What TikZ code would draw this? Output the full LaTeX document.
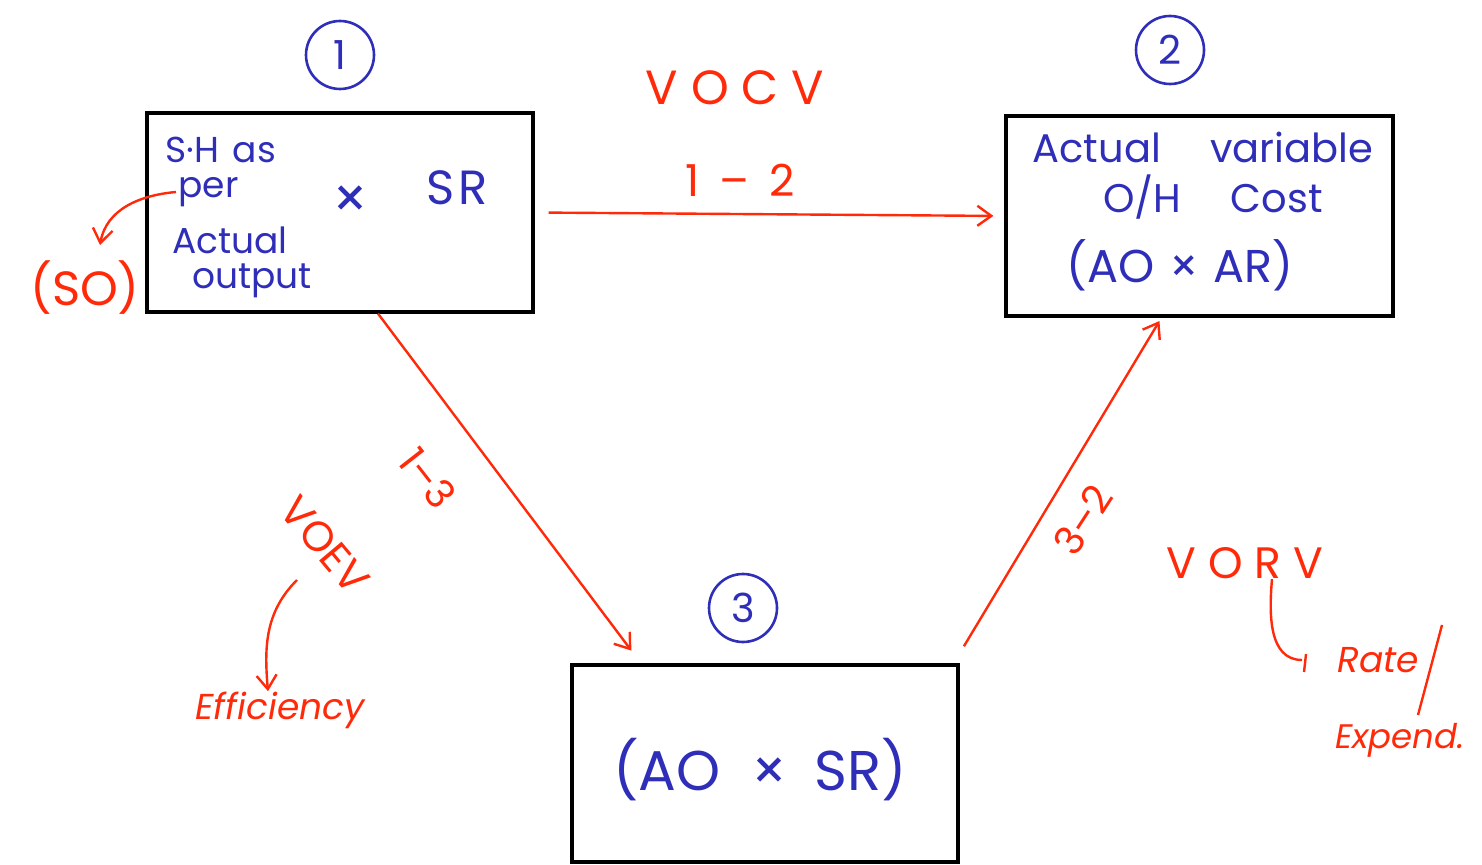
\documentclass[tikz,border=0pt]{standalone}
\usepackage{fontspec}
\setmainfont{Poppins}
\usetikzlibrary{arrows.meta, positioning, calc}
\definecolor{tinta}{HTML}{2E2EB8}
\definecolor{rojo}{HTML}{FF2A0A}

\begin{document}
\begin{tikzpicture}[
  x=0.5pt, y=-0.5pt,
  caja/.style={rectangle, draw=black, line width=1.6pt, inner sep=0pt},
  num/.style={circle, draw=tinta, line width=1.3pt, text=tinta, minimum size=34pt,
              inner sep=0pt, font=\fontsize{20}{20}\selectfont},
  azultxt/.style={text=tinta, inner sep=1pt, font=\fontsize{18}{20}\selectfont},
  rojotxt/.style={text=rojo, inner sep=0pt, font=\fontsize{18}{20}\selectfont},
  arr/.style={-{Straight Barb[length=7pt, width=10pt]}, rojo, line width=1.2pt},
]
\useasboundingbox (0,0) rectangle (1482,865);

% --- Cajas ---
\node[caja, minimum width=193pt, minimum height=99.5pt] (sh)  at (340,212.5) {};
\node[caja, minimum width=193.5pt, minimum height=100pt] (aoar) at (1199.5,216) {};
\node[caja, minimum width=193pt, minimum height=98.5pt] (aosr) at (765,763.5) {};

% --- Numeros ---
\node[num] (n1) at (340,55)  {1};
\node[num] (n2) at (1170,50) {2};
\node[num] (n3) at (743,608) {3};

% --- Texto caja 1 ---
\node[azultxt, anchor=west] (sh1)  at (163,150) {S·H \hspace{2pt}as};
\node[azultxt, anchor=west] (per)  at (176,192) {per};
\node[azultxt, anchor=west] (act)  at (170,240) {Actual};
\node[azultxt, anchor=west] (out)  at (190,281) {output};
\node[azultxt, font=\fontsize{28}{28}\selectfont] (por) at (350,202) {×};
\node[azultxt, font=\fontsize{24}{24}\selectfont] (sr) at (457,188) {S\hspace{2pt}R};

% --- Texto caja 2 ---
\node[azultxt, font=\fontsize{20}{22}\selectfont] (av)  at (1203,147) {Actual \hspace{14pt} variable};
\node[azultxt, font=\fontsize{20}{22}\selectfont] (oh)  at (1213,197) {O/H \hspace{14pt} Cost};
\node[azultxt, font=\fontsize{23}{25}\selectfont] (ar) at (1180,265) {(AO \hspace{1pt}× \hspace{1pt}AR)};

% --- Texto caja 3 ---
\node[azultxt, font=\fontsize{28}{30}\selectfont] (sr3) at (760,770) {(AO \hspace{8pt}× \hspace{6pt}SR)};

% --- Flechas principales ---
\draw[arr, shorten <=7pt, shorten >=5.5pt] (sh.east) -- (aoar.west);
\draw[arr, shorten >=8pt] ([xshift=19pt]sh.south) -- ([xshift=-62pt]aosr.north);
\draw[arr, shorten <=10pt, shorten >=2pt] ([xshift=-3pt]aosr.north east) -- ([xshift=-19pt]aoar.south);

% --- Etiquetas 1-2 ---
\node[rojotxt, font=\fontsize{24}{24}\selectfont] (vocv) at (735,88) {V O C V};
\node[rojotxt, font=\fontsize{22}{22}\selectfont] (d12)  at (740,180) {1 \hspace{4pt}– \hspace{4pt}2};

% --- Etiquetas 1-3 ---
\node[rojotxt, rotate=-52, font=\fontsize{20}{20}\selectfont] (d13)  at (428,478) {1–3};
\node[rojotxt, rotate=-50, font=\fontsize{21}{21}\selectfont] (voev) at (325,545) {VOEV};
\node[rojotxt, font=\itshape\fontsize{18}{20}\selectfont] (efi) at (280,710) {Efficiency};
\draw[arr] (297,580) to[out=225, in=95] (efi.north -| 268,0);

% --- Etiquetas 3-2 ---
\node[rojotxt, rotate=57, font=\fontsize{20}{20}\selectfont] (d32)  at (1083,520) {3–2};
\node[rojotxt, font=\fontsize{22}{22}\selectfont] (vorv) at (1245,563) {V O R V};
\node[rojotxt, font=\itshape\fontsize{18}{20}\selectfont] (rate) at (1378,660) {Rate};
\node[rojotxt, font=\itshape\fontsize{17}{20}\selectfont] (exp)  at (1400,740) {Expend.};
\draw[rojo, line width=1.2pt] (1442,625) -- (1418,715);
\draw[rojo, line width=1.2pt] (vorv.south -| 1272,0) to[out=-95, in=180] (1302,660);
\draw[rojo, line width=1.2pt] (1306,654) -- (1304,672);

% --- Produccion estandar ---
\node[rojotxt, font=\fontsize{24}{24}\selectfont] (so) at (85,288) {(SO)};
\draw[arr] (per.west) to[out=185, in=80] (100,245);

\end{tikzpicture}
\end{document}
